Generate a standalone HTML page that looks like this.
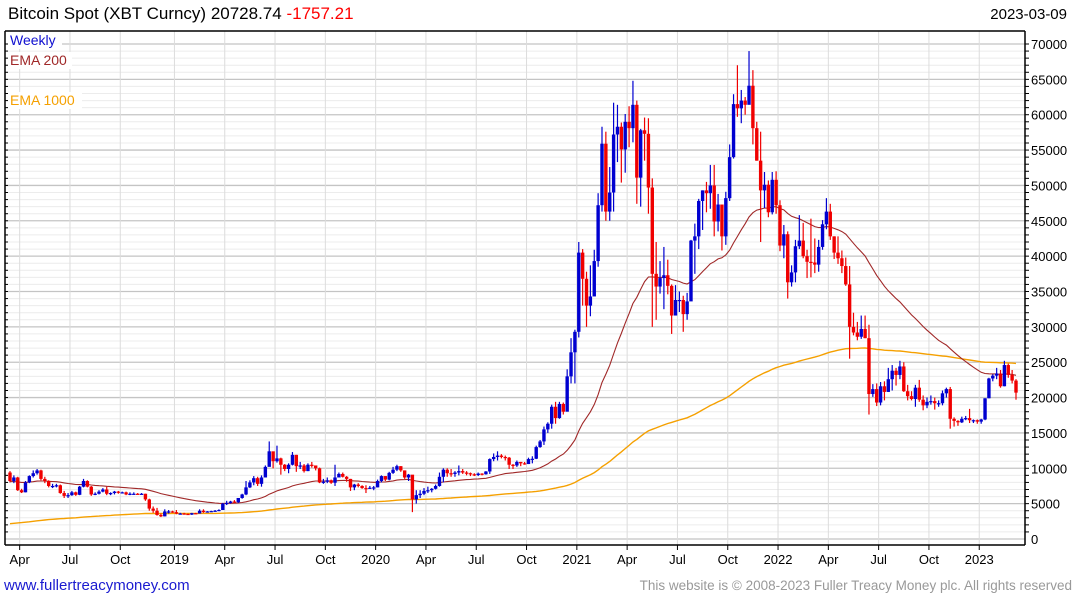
<!DOCTYPE html>
<html><head><meta charset="utf-8">
<style>
body{margin:0;background:#fff;width:1075px;height:600px;overflow:hidden;font-family:"Liberation Sans","DejaVu Sans",sans-serif;}
svg{position:absolute;left:0;top:0}
</style></head>
<body>
<svg id="chart" width="1075" height="600">
<text x="8" y="19" font-size="17" fill="#000">Bitcoin Spot (XBT Curncy) 20728.74 <tspan fill="#f00">-1757.21</tspan></text>
<text x="1067" y="19" font-size="15" text-anchor="end" fill="#000">2023-03-09</text>
<g id="grid"></g>
<g id="emas"></g>
<g id="candles"></g>
<g id="axes"></g>
<rect x="8" y="32" width="54" height="17" fill="#fff"/>
<text x="10" y="45" font-size="14" fill="#1010d0">Weekly</text>
<rect x="8" y="52" width="64" height="17" fill="#fff"/>
<text x="10" y="65" font-size="14" fill="#a02828">EMA 200</text>
<rect x="8" y="92" width="74" height="17" fill="#fff"/>
<text x="10" y="105" font-size="14" fill="#f5a000">EMA 1000</text>
<text x="4" y="590" font-size="15" fill="#1a1ad0">www.fullertreacymoney.com</text>
<text x="1072" y="590" font-size="13.5" text-anchor="end" fill="#999">This website is © 2008-2023 Fuller Treacy Money plc. All rights reserved</text>
</svg>
<script>
const firstOpen = 9400;
const closes = [8200,8700,6900,6600,8000,8900,9300,9700,8500,8200,7500,7500,7600,6500,6100,6200,6600,6250,7400,8200,7400,6300,6400,6700,7000,6400,6500,6700,6600,6600,6300,6400,6400,6350,6400,5600,4300,4000,3400,3200,3900,3900,
3800,3600,3600,3550,3450,3650,3600,4000,3800,3900,3950,4000,4100,5000,5100,5300,5200,5800,6300,7300,8000,8600,7800,8700,10200,12400,11000,11400,10500,9900,10500,11900,10300,10400,9600,10500,10400,10000,8000,8100,8300,7950,8700,9200,8800,8500,7300,7700,7500,7200,7150,7250,
7300,8200,8900,8400,9350,9800,10300,9700,8700,9100,5600,6200,6400,6800,6900,7100,7500,8800,9800,9300,9200,9400,9600,9400,9300,9150,9050,9250,9150,9550,11300,11600,11800,11600,11500,10500,10400,10900,10700,10600,11300,11350,13000,13800,15500,16300,18700,17100,19100,18000,23000,26400,
29300,40500,36800,33000,34300,39300,47200,55900,46300,49000,57200,58300,55100,59000,58100,61400,51100,57800,57300,49700,37500,35700,36900,37300,35800,31600,33800,33800,31800,33600,42200,42800,47800,49300,48900,50000,44900,47300,42800,48200,54000,61500,60900,62000,61400,64100,58100,53500,49300,50100,46200,50800,47200,
41500,43100,36300,37700,41400,42200,40000,39200,39100,38800,41300,44500,46300,42800,40500,39700,38600,36000,30000,29200,28600,29700,28400,20500,21200,19300,21600,20800,22600,23800,23200,24400,20900,20200,19800,21400,19700,18900,19400,19500,19200,19200,20600,21200,17000,16700,16500,17000,17100,16800,16800,16600,
16900,19900,22700,23100,23400,21600,24600,23200,22400,20700];
const highs = [9600,9000,8800,7100,8200,9000,9700,9900,9800,8800,8300,7800,7800,7700,6800,6500,6800,6700,7500,8500,8300,7500,6600,6900,7200,7400,6600,6800,6800,6700,6700,6600,6600,6500,6500,6400,5700,4600,4400,3600,4200,4100,
4000,4100,3700,3700,3600,3700,3700,4200,4200,3950,4000,4100,4200,5100,5400,5400,5500,5800,6400,8200,8300,8900,8800,9000,10400,13800,12000,13200,11500,10600,10700,12300,11900,10900,10600,10700,10900,10300,10100,8500,8700,8400,10500,9400,9400,8900,8500,7800,7900,7600,7600,7500,
7500,8400,9000,8900,9500,10200,10500,10300,9700,9200,8000,6900,6900,7200,7400,7200,7700,9400,10000,10000,9900,9600,10400,9900,9600,9400,9300,9400,9300,9600,11400,12100,12400,12000,11800,11600,10600,11100,10900,10900,11500,11700,13200,14000,15900,16500,19000,19400,19400,19300,24000,28400,
29600,42000,41000,37800,38700,40900,48900,58300,57600,52600,61700,61400,58900,60100,61200,64800,62000,58000,59600,59500,51000,42000,39300,41300,39500,36000,35900,35000,34400,34800,42300,44600,48100,49300,50500,52900,52900,48800,45200,49100,55800,62900,67000,63500,62500,69000,66300,59000,57600,51900,50700,51900,52000,
47900,44400,43500,38700,42300,45800,44700,40900,45300,42500,42300,45100,48200,47400,42800,42800,40800,39800,38600,32000,30700,31600,31600,30300,21900,22000,22200,22300,24200,24600,24200,25200,25000,21800,20900,21800,22500,20300,20000,20300,20000,19600,21000,21400,21500,17200,16800,17300,17400,18400,16900,16900,
17000,19900,22800,23300,24200,23900,25200,24800,23900,22600];
const lows = [8000,7900,6800,6500,6600,7900,8700,9100,8300,7900,7300,7200,7300,6400,5800,5800,6100,6100,6200,7300,7300,6100,6200,6300,6600,6200,6200,6300,6400,6500,6200,6200,6300,6300,6300,5400,4000,3700,3300,3100,3200,3600,
3700,3500,3500,3500,3400,3400,3550,3600,3700,3750,3850,3900,3950,4100,4800,5000,5100,5100,5700,6200,7200,7600,7500,7400,8700,10300,10000,10800,9100,9600,9300,10400,9500,9900,9400,9600,10100,9700,7900,7800,7900,7800,7500,8900,8700,8100,6800,6900,7300,7100,6500,7100,
6900,7300,8000,8200,8300,9200,9600,9500,8500,8200,3800,5000,5800,6200,6500,6600,7000,7400,8000,8800,8800,8800,9000,9200,9000,8900,8900,8900,9000,9100,9200,11000,11100,11400,11100,9900,9900,10200,10300,10500,10600,10700,11300,12900,13300,15000,15600,16300,17000,17600,18700,22000,
22000,28500,33000,30000,31500,35500,38500,46300,45000,45000,46300,53300,50400,51800,55400,56100,47400,47000,53500,46000,30000,31000,34700,32500,34600,29000,32700,32100,29300,31000,33700,37500,41000,43700,46200,46700,42800,43500,40800,41600,47800,53800,59700,58800,60000,61500,55800,53500,42000,46800,45500,45900,46000,
40700,39700,34000,35700,36300,41000,39700,36900,37000,37600,37800,40900,43800,42300,39600,38900,37600,35800,25500,28800,28100,28300,28400,17600,20100,18800,18900,19600,20800,21000,21700,22600,20800,19600,19600,18700,19400,18200,18500,19000,18300,18700,18900,20000,15600,15900,16000,16400,16800,16400,16400,16300,
16300,16800,19900,22300,22600,21400,21600,22800,22000,19700];
const ema200Seed = 8100;
const ema1000Seed = 2100;
const yTicks = [0,5000,10000,15000,20000,25000,30000,35000,40000,45000,50000,55000,60000,65000,70000];
const xLabels = ["Apr","Jul","Oct","2019","Apr","Jul","Oct","2020","Apr","Jul","Oct","2021","Apr","Jul","Oct","2022","Apr","Jul","Oct","2023"];
const xLabelWeeks = [2.5,15.5,28.5,42.5,55.5,68.5,81.5,94.5,107.5,120.5,133.5,146.5,159.5,172.5,185.5,198.5,211.5,224.5,237.5,250.5];

const NS="http://www.w3.org/2000/svg";
const L=5,R=1025,T=31,B=545;
const y=v=>539-v*495/70000;
const n=closes.length;
const x=i=>10+i*(1016-10)/(n-1);
function mk(tag,attrs,parent){const e=document.createElementNS(NS,tag);for(const k in attrs)e.setAttribute(k,attrs[k]);parent.appendChild(e);return e;}
const grid=document.getElementById('grid'),cg=document.getElementById('candles'),eg=document.getElementById('emas'),ax=document.getElementById('axes');
for(let v=1000;v<=70000;v+=1000){
  const major=v%5000===0;
  const gl=mk('line',{x1:L,x2:R,y1:y(v),y2:y(v),stroke:major?'#c4c4c4':'#ececec','stroke-width':major?1.3:1},grid);
  
  
  mk('line',{x1:R,x2:R+4,y1:y(v),y2:y(v),stroke:'#000'},ax);
  mk('line',{x1:L,x2:L+3,y1:y(v),y2:y(v),stroke:'#000'},ax);
}
mk('line',{x1:L,x2:R,y1:y(0),y2:y(0),stroke:'#c4c4c4','stroke-width':1.3},grid);
xLabelWeeks.forEach((w,i)=>{
  const xx=x(w);
  const vl=mk('line',{x1:xx,x2:xx,y1:T,y2:B,stroke:'#dcdcdc'},grid);
  
  
  mk('line',{x1:xx,x2:xx,y1:B,y2:B+5,stroke:'#000'},ax);
  const t=mk('text',{x:xx,y:564,'font-size':13,'text-anchor':'middle',fill:'#000'},ax);
  t.textContent=xLabels[i];
  
  
});
yTicks.forEach(v=>{
  const t=mk('text',{x:1031,y:y(v)+5,'font-size':13,fill:'#000'},ax);
  t.textContent=v;
  
  
});
mk('line',{x1:L,x2:R,y1:T,y2:T,stroke:'#000','stroke-width':1.5},ax);
mk('line',{x1:L,x2:R,y1:B,y2:B,stroke:'#000','stroke-width':1.5},ax);
mk('line',{x1:L,x2:L,y1:T,y2:B,stroke:'#000','stroke-width':1.5},ax);
mk('line',{x1:R,x2:R,y1:T,y2:B,stroke:'#000','stroke-width':1.5},ax);
// EMAs
let e2=ema200Seed,e10=ema1000Seed,p2=[],p10=[];
const a2=2/41,a10=2/201;
for(let i=0;i<n;i++){e2+=a2*(closes[i]-e2);e10+=a10*(closes[i]-e10);p2.push(x(i).toFixed(1)+','+y(e2).toFixed(1));p10.push(x(i).toFixed(1)+','+y(e10).toFixed(1));}
const l10=mk('polyline',{points:p10.join(' '),fill:'none',stroke:'#f5a000','stroke-width':1.4},eg);


const l2=mk('polyline',{points:p2.join(' '),fill:'none',stroke:'#a02828','stroke-width':1.1},eg);


// candles
for(let i=0;i<n;i++){
  const o=i===0?firstOpen:closes[i-1],c=closes[i];
  const col=c>=o?'#0000d0':'#f00000';
  const g=mk('g',{},cg);
  
  
  const cx=x(i);
  mk('line',{x1:cx,x2:cx,y1:y(highs[i]),y2:y(lows[i]),stroke:col,'stroke-width':1.2},g);
  const top=y(Math.max(o,c)),bot=y(Math.min(o,c));
  mk('rect',{x:cx-1.7,y:top,width:3.4,height:Math.max(1.2,bot-top),fill:col},g);
}
</script>
</body></html>
